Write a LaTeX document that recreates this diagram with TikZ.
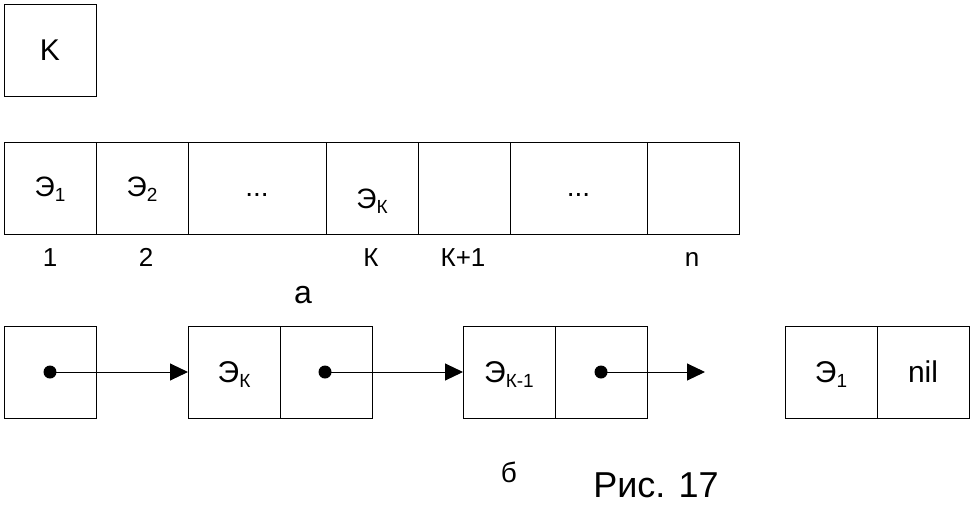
\documentclass[tikz,border=0pt]{standalone}
\usepackage{fontspec}
\setmainfont{Liberation Sans}
\usetikzlibrary{arrows.meta}
\newcommand{\elsub}[1]{\raisebox{-2.5pt}{\fontsize{9.5}{9.5}\selectfont #1}}
\tikzset{
  cell/.style={draw, line width=.5pt, minimum width=46pt, minimum height=46pt,
    inner sep=0pt, outer sep=0pt, text height=10pt, text depth=0pt,
    font=\fontsize{15}{15}\selectfont},
  slot/.style={cell, text height=8pt, font=\fontsize{14}{14}\selectfont},
  idx/.style={anchor=base, font=\fontsize{13}{13}\selectfont},
  ptr/.style={circle, fill, inner sep=0pt, minimum size=6.5pt},
}
\begin{document}
\begin{tikzpicture}[x=.5pt, y=-.5pt, >={Triangle[length=9pt,width=8.5pt]}]
\useasboundingbox (0,0) rectangle (973,514);
% index box
\node[cell] (k) at (50,50) {K};
% array
\node[slot] (a1) at (50,188) {Э\elsub{1}};
\node[slot] (a2) at (142,188) {Э\elsub{2}};
\node[slot, minimum width=69pt] (a3) at (257,188) {...};
\node[slot] (ak) at (372,188) {\raisebox{-6pt}{Э\elsub{К}}};
\node[slot] (ak1) at (464,188) {};
\node[slot, minimum width=68.5pt] (a6) at (578.5,188) {...};
\node[slot] (an) at (693,188) {};
\node[idx] (i1) at (50,266) {1};
\node[idx] (i2) at (146,266) {2};
\node[idx] (ik) at (371,266) {К};
\node[idx] (ik1) at (463,266) {К+1};
\node[idx] (in) at (692,266) {n};
\node[anchor=base, font=\fontsize{16}{16}\selectfont] (capa) at (303,303) {а};
% list
\node[cell] (b0) at (50,372) {};
\node[cell] (b1a) at (234,372) {Э\elsub{К}};
\node[cell] (b1b) at (326,372) {};
\node[cell] (b2a) at (509,372) {Э\elsub{К-1}};
\node[cell] (b2b) at (601,372) {};
\node[cell] (b3a) at (831,372) {Э\elsub{1}};
\node[cell] (b3b) at (923,372) {nil};
\node[ptr] (p0) at (50,372) {};
\node[ptr] (p1) at (325,372) {};
\node[ptr] (p2) at (601,372) {};
\coordinate (end) at (705,372);
\draw[->, line width=.5pt] (p0.center) -- (b1a.west);
\draw[->, line width=.5pt] (p1.center) -- (b2a.west);
\draw[->, line width=.5pt] (p2.center) -- (end);
\node[anchor=base, font=\fontsize{14}{14}\selectfont] (capb) at (509,482) {б};
\node[anchor=base, font=\fontsize{18}{18}\selectfont] (fig) at (656,497) {Рис. 17};
\end{tikzpicture}
\end{document}
